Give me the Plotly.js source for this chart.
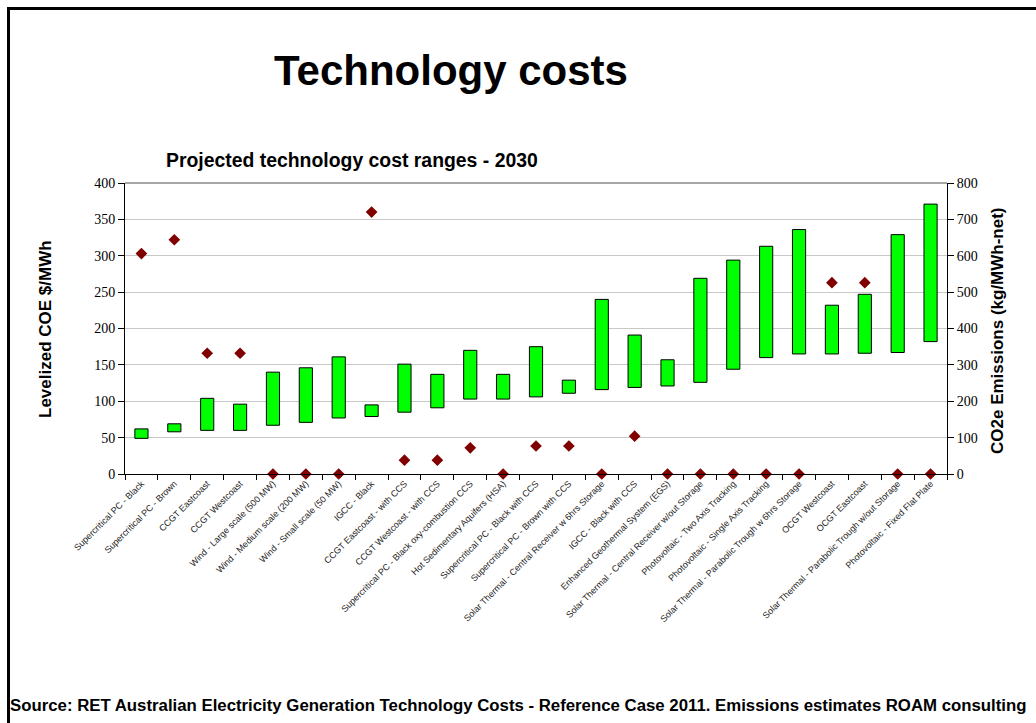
<!DOCTYPE html>
<html>
<head>
<meta charset="utf-8">
<script src="https://cdn.plot.ly/plotly-3.0.1.min.js"></script>
<style>html,body{margin:0;padding:0;background:#fff;}#chart{width:1036px;height:723px;}</style>
</head>
<body>
<div id="chart"></div>
<script>
const technologies = [
  "Supercritical PC - Black",
  "Supercritical PC - Brown",
  "CCGT Eastcoast",
  "CCGT Westcoast",
  "Wind - Large scale (500 MW)",
  "Wind - Medium scale (200 MW)",
  "Wind - Small scale (50 MW)",
  "IGCC - Black",
  "CCGT Eastcoast - with CCS",
  "CCGT Westcoast - with CCS",
  "Supercritical PC - Black oxy-combustion CCS",
  "Hot Sedimentary Aquifers (HSA)",
  "Supercritical PC - Black with CCS",
  "Supercritical PC - Brown with CCS",
  "Solar Thermal - Central Receiver w 6hrs Storage",
  "IGCC - Black with CCS",
  "Enhanced Geothermal System (EGS)",
  "Solar Thermal - Central Receiver w/out Storage",
  "Photovoltaic - Two Axis Tracking",
  "Photovoltaic - Single Axis Tracking",
  "Solar Thermal - Parabolic Trough w 6hrs Storage",
  "OCGT Westcoast",
  "OCGT Eastcoast",
  "Solar Thermal - Parabolic Trough w/out Storage",
  "Photovoltaic - Fixed Flat Plate"
];
const costLow  = [49, 58, 60, 60, 67, 71, 77, 79, 85, 91, 103, 103, 106, 111, 116, 119, 121, 126, 144, 160, 165, 165, 166, 167, 182];
const costHigh = [62, 69, 104, 96, 140, 146, 161, 95, 151, 137, 170, 137, 175, 129, 240, 191, 157, 269, 294, 313, 336, 232, 247, 329, 371];
const emissions = [606, 644, 332, 332, 0, 0, 0, 720, 38, 38, 72, 0, 77, 77, 0, 104, 0, 0, 0, 0, 0, 526, 526, 0, 0];
const leftTicks = [0, 50, 100, 150, 200, 250, 300, 350, 400];
const rightTicks = [0, 100, 200, 300, 400, 500, 600, 700, 800];

const bars = {
  type: 'bar',
  x: technologies,
  base: costLow,
  y: costHigh.map((h, i) => h - costLow[i]),
  width: 0.4,
  marker: {color: '#00ff00', line: {color: '#000000', width: 1}},
  yaxis: 'y',
  hoverinfo: 'skip'
};
const pts = {
  type: 'scatter',
  mode: 'markers',
  x: technologies,
  y: emissions,
  yaxis: 'y2',
  marker: {symbol: 'diamond', color: '#800000', size: 9},
  cliponaxis: false,
  hoverinfo: 'skip'
};

const W = 822, H = 291, L = 125, T = 183;
const px = x => (x - L) / W;
const py = y => (T + H - y) / H;

const layout = {
  width: 1036, height: 723,
  margin: {l: 125, r: 89, t: 183, b: 249},
  paper_bgcolor: '#ffffff', plot_bgcolor: '#ffffff',
  showlegend: false,
  font: {family: 'Liberation Sans, Arial, sans-serif', color: '#000'},
  xaxis: {
    type: 'category',
    categoryorder: 'array', categoryarray: technologies,
    range: [-0.5, technologies.length - 0.5],
    tickangle: -45,
    tickfont: {family: 'Liberation Sans, Arial, sans-serif', size: 9, color: '#222'},
    ticks: 'outside', tickson: 'boundaries', ticklen: 5, tickcolor: '#000',
    showline: true, linecolor: '#000', linewidth: 1,
    showgrid: false, zeroline: false,
    automargin: false
  },
  yaxis: {
    range: [0, 400], tickvals: leftTicks,
    tickfont: {family: '"Liberation Serif", "Times New Roman", serif', size: 14, color: '#000'},
    ticks: 'outside', ticklen: 6, tickcolor: '#000',
    showline: true, linecolor: '#000', linewidth: 1,
    showgrid: true, gridcolor: '#c8c8c8', gridwidth: 1,
    zeroline: false, automargin: false
  },
  yaxis2: {
    overlaying: 'y', side: 'right',
    range: [0, 800], tickvals: rightTicks,
    tickfont: {family: '"Liberation Serif", "Times New Roman", serif', size: 14, color: '#000'},
    ticks: 'outside', ticklen: 6, tickcolor: '#000',
    showline: true, linecolor: '#000', linewidth: 1,
    showgrid: false, zeroline: false, automargin: false
  },
  shapes: [
    {type: 'line', xref: 'paper', yref: 'paper', x0: 0, x1: 1, y0: 1, y1: 1, line: {color: '#888888', width: 1.5}},
    {type: 'line', xref: 'paper', yref: 'paper', x0: px(8), x1: px(1040), y0: py(8.5), y1: py(8.5), line: {color: '#000', width: 3}},
    {type: 'line', xref: 'paper', yref: 'paper', x0: px(8.5), x1: px(8.5), y0: py(7), y1: py(730), line: {color: '#000', width: 3}}
  ],
  annotations: [
    {text: '<b>Technology costs</b>', xref: 'paper', yref: 'paper', x: px(451), y: py(70), xanchor: 'center', yanchor: 'middle', showarrow: false,
     font: {family: 'Liberation Sans, Arial, sans-serif', size: 42, color: '#000'}},
    {text: '<b>Projected technology cost ranges - 2030</b>', xref: 'paper', yref: 'paper', x: px(352), y: py(160), xanchor: 'center', yanchor: 'middle', showarrow: false,
     font: {family: 'Liberation Sans, Arial, sans-serif', size: 19.4, color: '#000'}},
    {text: '<b>Levelized COE $/MWh</b>', xref: 'paper', yref: 'paper', x: px(45), y: py(329), xanchor: 'center', yanchor: 'middle', textangle: -90, showarrow: false,
     font: {family: 'Liberation Sans, Arial, sans-serif', size: 17, color: '#000'}},
    {text: '<b>CO2e Emissions (kg/MWh-net)</b>', xref: 'paper', yref: 'paper', x: px(997), y: py(331), xanchor: 'center', yanchor: 'middle', textangle: -90, showarrow: false,
     font: {family: 'Liberation Sans, Arial, sans-serif', size: 17, color: '#000'}},
    {text: '<b>Source: RET Australian Electricity Generation Technology Costs - Reference Case 2011. Emissions estimates ROAM consulting</b>', xref: 'paper', yref: 'paper', x: px(8), y: py(705), xanchor: 'left', yanchor: 'middle', showarrow: false,
     font: {family: 'Liberation Sans, Arial, sans-serif', size: 16.8, color: '#000'}}
  ]
};

Plotly.newPlot('chart', [bars, pts], layout, {displayModeBar: false, staticPlot: true});
</script>
</body>
</html>
